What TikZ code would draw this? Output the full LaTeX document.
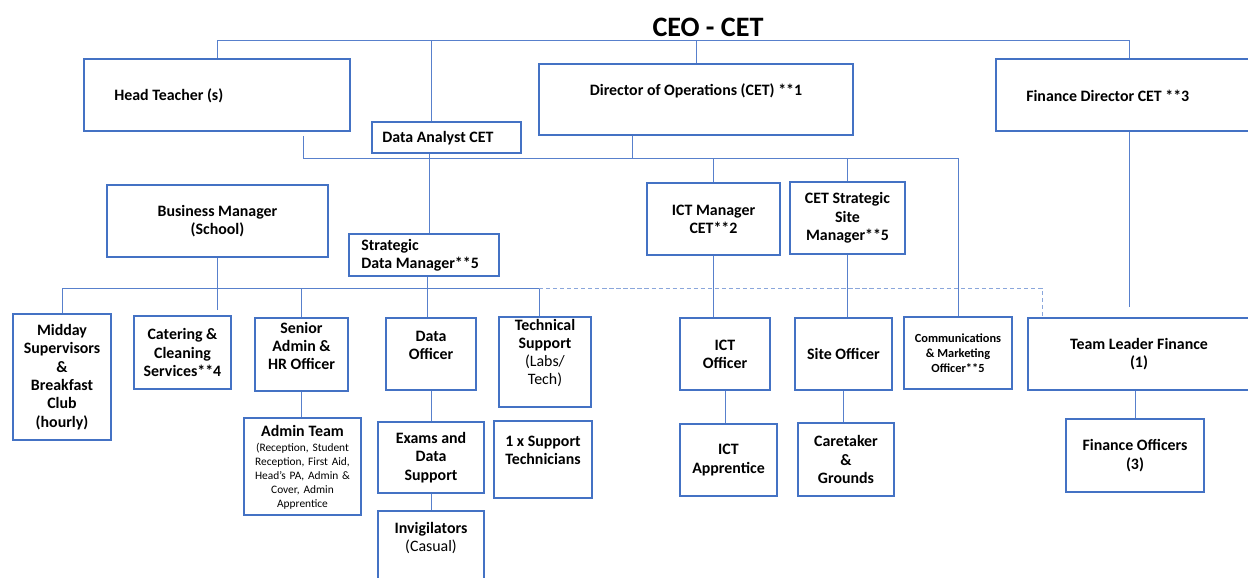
\documentclass[tikz,border=0pt]{standalone}
\usepackage{fontspec}
\setmainfont{Carlito}
\usetikzlibrary{calc}
\definecolor{oblue}{RGB}{68,114,196}
\definecolor{olink}{RGB}{88,128,204}

\begin{document}
\begin{tikzpicture}[x=0.025cm,y=-0.025cm,
  box/.style={draw=oblue,line width=1.3pt,fill=white,align=center,
              font=\bfseries\fontsize{11.3}{13}\selectfont,inner sep=1pt},
  sz/.style 2 args={minimum width=#1*0.025cm,minimum height=#2*0.025cm},
  txt/.style={align=center,font=\bfseries\fontsize{11.3}{13}\selectfont,inner sep=0pt},
  link/.style={olink,line width=0.7pt},
  dash link/.style={olink!70,line width=0.7pt,dash pattern=on 3pt off 2pt}
]
\useasboundingbox (0,0) rectangle (1248,578);
\clip (0,0) rectangle (1248,578);

\node[txt,font=\bfseries\fontsize{20}{24}\selectfont] (ceo) at (708,27) {CEO - CET};

% top row
\node[box,sz={266}{72}] (ht)  at (217,95)     {};
\node[txt,anchor=west]  (ht-t) at (114,96)    {Head Teacher (s)};
\node[box,sz={149}{31}] (da)  at (446.5,137.5) {};
\node[txt,anchor=west]  (da-t) at (382,138)   {Data Analyst CET};
\node[box,sz={314}{71}] (dop) at (696,99.5)   {};
\node[txt]              (dop-t) at (696,91)   {Director of Operations (CET) **1};
\node[box,sz={266}{72}] (fd)  at (1129,95)    {};
\node[txt,anchor=west]  (fd-t) at (1026,96)   {Finance Director CET **3};

% managers
\node[box,sz={221}{72}] (bm)   at (217.5,221) {Business Manager\\(School)};
\node[box,sz={150}{42}] (sdm)  at (424,255)   {};
\node[txt,anchor=west,align=left] (sdm-t) at (361,255) {Strategic\\Data Manager**5};
\node[box,sz={133}{72}] (ictm) at (713.5,219) {ICT Manager\\CET**2};
\node[box,sz={115}{72}] (ssm)  at (847.5,218) {CET Strategic\\Site\\Manager**5};

% staff row
\node[box,sz={98}{126}] (mid)  at (62,377)    {Midday\\Supervisors\\\&\\Breakfast\\Club\\(hourly)};
\node[box,sz={97}{73}]  (cat)  at (182.5,352.5) {Catering \&\\Cleaning\\Services**4};
\node[box,sz={93}{73}]  (sah)  at (301.5,354.5) {};
\node[txt]              (sah-t) at (301.5,346) {Senior\\Admin \&\\HR Officer};
\node[box,sz={90}{72}]  (dof)  at (431,354)   {};
\node[txt]              (dof-t) at (431,345.5) {Data\\Officer};
\node[box,sz={92}{90}]  (tech) at (545,362)   {};
\node[txt]              (tech-t) at (545,353) {Technical\\Support\\{\mdseries (Labs/}\\{\mdseries Tech)}};
\node[box,sz={90}{72}]  (icto) at (725,354)   {ICT\\Officer};
\node[box,sz={97}{72}]  (site) at (843.5,354) {Site Officer};
\node[box,sz={108}{72},font=\bfseries\fontsize{8.8}{10.6}\selectfont]
                        (com)  at (958,353)   {Communications\\\& Marketing\\Officer**5};
\node[box,sz={222}{72}] (tlf)  at (1139,354)  {Team Leader Finance\\(1)};

% lower rows
\node[box,sz={117}{97}] (adm)  at (302.5,466.5) {};
\node[txt,text width=112*0.025cm,font=\mdseries\fontsize{8.1}{9.9}\selectfont]
  (adm-t) at (302.5,467) {{\bfseries\fontsize{11.3}{13}\selectfont Admin Team}\\[1pt]
  (Reception, Student\\Reception, First Aid,\\Head’s PA, Admin \&\\Cover, Admin\\Apprentice};
\node[box,sz={106}{71}] (exd)  at (431,457.5) {Exams and\\Data\\Support};
\node[box,sz={98}{77}]  (sup)  at (543,459.5) {};
\node[txt]              (sup-t) at (543,450)  {1 x Support\\Technicians};
\node[box,sz={106}{78}] (inv)  at (431,550)   {};
\node[txt]              (inv-t) at (431,538)  {Invigilators\\{\mdseries (Casual)}};
\node[box,sz={97}{72}]  (icta) at (728.5,460) {ICT\\Apprentice};
\node[box,sz={96}{73}]  (care) at (846,459.5) {Caretaker\\\&\\Grounds};
\node[box,sz={138}{73}] (fo)   at (1135,455.5) {Finance Officers\\(3)};

% bus lines
\coordinate (bus1) at (0,40);
\coordinate (bus2) at (0,158);
\coordinate (bus3) at (0,288);
\coordinate (da-in)   at ($(da.north)+(-15.5,0)$);
\coordinate (da-out)  at ($(da.south)+(-17.5,0)$);
\coordinate (dop-out) at ($(dop.south)+(-64,0)$);
\coordinate (ht-out)  at ($(ht.south east)+(-47,4)$);
\coordinate (sdm-out) at ($(sdm.south)+(3,0)$);
\coordinate (tech-in) at ($(tech.north)+(-6,0)$);
\coordinate (tlf-in)  at ($(tlf.north west)+(15,0)$);

\draw[link] (ht.north) |- (fd.north |- bus1) -- (fd.north);
\draw[link] (da-in) -- (da-in |- bus1);
\draw[link] (dop.north) -- (dop.north |- bus1);

\draw[link] (ht-out) |- (com.north |- bus2) -- (com.north);
\draw[link] (dop-out) -- (dop-out |- bus2);
\draw[link] (ictm.north) -- (ictm.north |- bus2);
\draw[link] (ssm.north) -- (ssm.north |- bus2);
\draw[link] (da-out) -- (da-out |- sdm.north);

\draw[link] (mid.north) |- (tech-in |- bus3) -- (tech-in);
\draw[link,shorten >=0.12cm] (bm.south) -- (bm.south |- cat.north);
\draw[link] (sah.north) -- (sah.north |- bus3);
\draw[link] (sdm-out) -- (sdm-out |- dof.north);
\draw[dash link] (tech-in |- bus3) -| (tlf-in);
\draw[link,shorten >=0.25cm] (fd.south) -- (fd.south |- tlf.north);

\draw[link] (ictm.south) -- (ictm.south |- icto.north);
\draw[link] (ssm.south) -- (ssm.south |- site.north);
\draw[link] (sah.south) -- (sah.south |- adm.north);
\draw[link] (dof.south) -- (dof.south |- exd.north);
\draw[link] (exd.south) -- (inv.north);
\draw[link] (icto.south) -- (icto.south |- icta.north);
\draw[link] (site.south) -- (site.south |- care.north);
\draw[link] (fo.north |- tlf.south) -- (fo.north);
\end{tikzpicture}
\end{document}
